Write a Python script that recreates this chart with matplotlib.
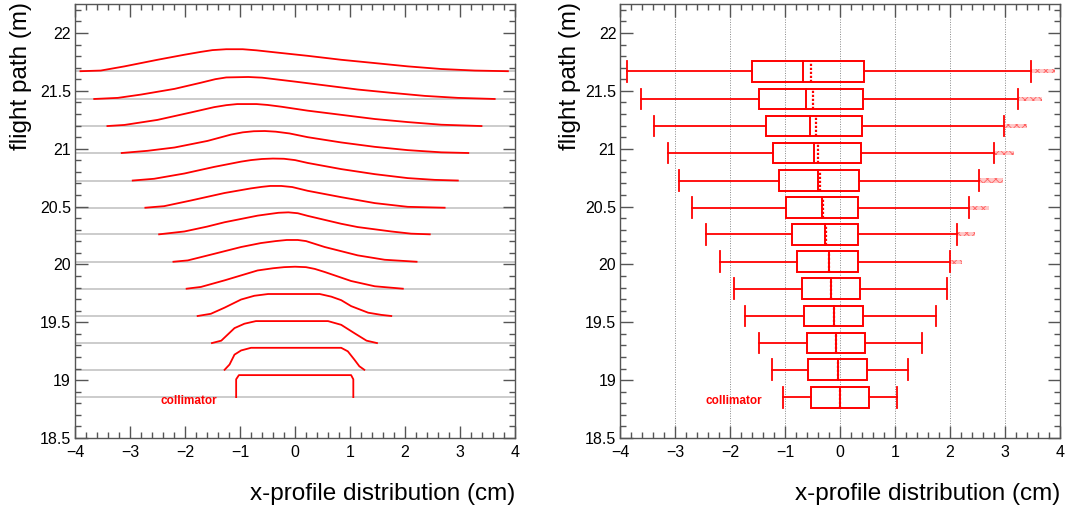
import numpy as np
import matplotlib
matplotlib.use("Agg")
import matplotlib.pyplot as plt
from matplotlib.patches import Rectangle
from matplotlib.ticker import MultipleLocator, FuncFormatter

plt.rcParams['font.family'] = ['Liberation Sans', 'DejaVu Sans']
plt.rcParams['axes.unicode_minus'] = True
plt.rcParams['hatch.linewidth'] = 0.6

# flight path of each slice (bottom = collimator)
levels = [18.853, 19.089, 19.32, 19.554, 19.79, 20.023, 20.26,
          20.49, 20.725, 20.963, 21.196, 21.43, 21.67]

# x-profile shapes (relative height, peak = 1)
profile_x = [
    [-1.07, -1.07, -1.02, 1.02, 1.06, 1.06],
    [-1.28, -1.19, -1.10, -0.98, -0.80, 0.84, 0.96, 1.08, 1.17, 1.26],
    [-1.51, -1.34, -1.10, -0.92, -0.71, 0.60, 0.84, 1.08, 1.30, 1.49],
    [-1.77, -1.53, -1.28, -0.98, -0.74, -0.49, 0.45, 0.66, 0.84, 1.02, 1.33, 1.57, 1.75],
    [-1.97, -1.71, -1.28, -0.68, -0.40, -0.20, 0.0, 0.20, 0.36, 0.54, 1.02, 1.45, 1.96],
    [-2.21, -1.95, -1.47, -0.98, -0.62, -0.35, -0.15, 0.05, 0.20, 0.54, 1.14, 1.63, 2.21],
    [-2.47, -2.01, -1.60, -1.28, -0.68, -0.45, -0.30, -0.12, 0.05, 0.23, 0.84, 1.14, 1.75, 2.11, 2.45],
    [-2.72, -2.38, -1.89, -1.28, -0.80, -0.60, -0.45, -0.25, -0.05, 0.23, 0.84, 1.45, 2.05, 2.72],
    [-2.95, -2.56, -2.01, -1.47, -0.98, -0.80, -0.60, -0.40, -0.20, 0.0, 0.23, 0.84, 1.45, 2.05, 2.54, 2.96],
    [-3.15, -2.68, -2.19, -1.59, -1.16, -0.95, -0.75, -0.55, -0.35, -0.10, 0.23, 0.84, 1.45, 2.05, 2.66, 3.15],
    [-3.41, -3.10, -2.50, -1.89, -1.47, -1.25, -1.05, -0.70, -0.50, -0.25, 0.23, 0.84, 1.45, 2.05, 2.66, 3.39],
    [-3.65, -3.22, -2.80, -2.19, -1.71, -1.45, -1.25, -0.85, -0.60, -0.30, 0.00, 0.54, 1.14, 1.75, 2.36, 2.96, 3.63],
    [-3.90, -3.53, -3.10, -2.50, -2.01, -1.71, -1.50, -1.25, -0.95, -0.70, -0.37, 0.23, 0.84, 1.45, 2.05, 2.66, 3.27, 3.87],
]
profile_h = [
    [0, 0.81, 1.0, 1.0, 0.81, 0],
    [0, 0.24, 0.69, 0.88, 1.0, 1.0, 0.84, 0.46, 0.16, 0],
    [0, 0.11, 0.68, 0.88, 1.0, 1.0, 0.83, 0.45, 0.11, 0],
    [0, 0.10, 0.38, 0.75, 0.92, 1.0, 1.0, 0.88, 0.72, 0.45, 0.15, 0.05, 0],
    [0, 0.08, 0.38, 0.83, 0.93, 0.98, 1.0, 0.98, 0.90, 0.76, 0.35, 0.11, 0],
    [0, 0.06, 0.36, 0.67, 0.85, 0.94, 0.99, 0.99, 0.94, 0.67, 0.29, 0.09, 0],
    [0, 0.13, 0.35, 0.55, 0.85, 0.93, 0.98, 1.0, 0.96, 0.84, 0.48, 0.33, 0.13, 0.03, 0],
    [0, 0.07, 0.33, 0.67, 0.88, 0.95, 0.99, 0.99, 0.94, 0.77, 0.48, 0.21, 0.04, 0],
    [0, 0.08, 0.32, 0.62, 0.86, 0.93, 0.98, 1.0, 0.99, 0.93, 0.80, 0.52, 0.29, 0.11, 0.03, 0],
    [0, 0.10, 0.25, 0.55, 0.84, 0.94, 0.99, 1.0, 0.97, 0.89, 0.72, 0.48, 0.28, 0.13, 0.03, 0],
    [0, 0.05, 0.28, 0.62, 0.86, 0.95, 1.0, 1.0, 0.96, 0.88, 0.70, 0.51, 0.32, 0.18, 0.06, 0],
    [0, 0.05, 0.20, 0.46, 0.74, 0.90, 0.98, 1.0, 0.97, 0.88, 0.79, 0.62, 0.43, 0.28, 0.14, 0.05, 0],
    [0, 0.03, 0.22, 0.52, 0.75, 0.88, 0.96, 1.0, 1.0, 0.95, 0.86, 0.70, 0.52, 0.37, 0.22, 0.10, 0.03, 0],
]

# box-plot statistics per slice
whisker_lo = [-1.04, -1.24, -1.48, -1.74, -1.94, -2.19, -2.45, -2.69, -2.94, -3.14, -3.39, -3.63, -3.89]
q1 = [-0.53, -0.58, -0.61, -0.66, -0.70, -0.78, -0.88, -0.98, -1.11, -1.22, -1.35, -1.48, -1.60]
median = [0.0, -0.04, -0.085, -0.12, -0.17, -0.21, -0.27, -0.34, -0.41, -0.48, -0.55, -0.62, -0.686]
mean = [0.0, -0.04, -0.085, -0.12, -0.17, -0.21, -0.26, -0.31, -0.36, -0.40, -0.44, -0.50, -0.54]
q3 = [0.53, 0.49, 0.45, 0.41, 0.36, 0.33, 0.33, 0.33, 0.35, 0.37, 0.39, 0.42, 0.437]
whisker_hi = [1.04, 1.24, 1.49, 1.74, 1.94, 1.99, 2.13, 2.34, 2.53, 2.79, 2.98, 3.23, 3.47]
outlier_hi = [None, None, None, None, None, 2.22, 2.46, 2.71, 2.97, 3.16, 3.40, 3.67, 3.91]

label_text = "collimator"
label_pos = (-2.45, 18.815)

RED = '#ff0000'
peak_height = 0.19
box_half = 0.09

fig = plt.figure(figsize=(10.65, 5.14), dpi=100)
ax1 = fig.add_axes([0.0704, 0.148, 0.4132, 0.844])
ax2 = fig.add_axes([0.5826, 0.148, 0.4127, 0.844])


def style_axes(ax):
    ax.set_xlim(-4, 4)
    ax.set_ylim(18.5, 22.25)
    ax.xaxis.set_major_locator(MultipleLocator(1))
    ax.xaxis.set_minor_locator(MultipleLocator(0.2))
    ax.yaxis.set_major_locator(MultipleLocator(0.5))
    ax.yaxis.set_minor_locator(MultipleLocator(0.1))
    fmt = FuncFormatter(lambda v, p: ('%g' % v).replace('-', '\u2212'))
    ax.xaxis.set_major_formatter(fmt)
    ax.yaxis.set_major_formatter(fmt)
    ax.tick_params(which='both', direction='in', top=True, right=True,
                   color='#555555', width=1.0, labelsize=11.5)
    ax.tick_params(which='major', length=9)
    ax.tick_params(which='minor', length=4.5)
    ax.tick_params(axis='x', pad=5)
    ax.tick_params(axis='y', pad=3)
    for s in ax.spines.values():
        s.set_color('#555555')
        s.set_linewidth(1.0)
    ax.set_xlabel('x-profile distribution (cm)', fontsize=17.5, loc='right')
    ax.set_ylabel('flight path (m)', fontsize=17.5, loc='top')
    ax.xaxis.set_label_coords(1.0, -0.103)
    ax.text(label_pos[0], label_pos[1], label_text, color=RED, fontsize=8.5,
            fontweight='bold', va='center', ha='left')


# left: stacked profiles
style_axes(ax1)
ax1.yaxis.set_label_coords(-0.098, 1.005)
for lev, xs, hs in zip(levels, profile_x, profile_h):
    ax1.axhline(lev, color='#c8c8c8', lw=1.3, zorder=1)
    ax1.plot(xs, lev + peak_height * np.array(hs), color=RED, lw=1.3, zorder=2)

# right: box plots
style_axes(ax2)
ax2.yaxis.set_label_coords(-0.09, 1.005)
for gx in range(-3, 4):
    ax2.axvline(gx, color='#888888', lw=0.7, ls=(0, (1, 1.5)), zorder=0)
for i, lev in enumerate(levels):
    ax2.add_patch(Rectangle((q1[i], lev - box_half), q3[i] - q1[i], 2 * box_half,
                            fill=False, edgecolor=RED, lw=1.4, zorder=3))
    ax2.plot([whisker_lo[i], q1[i]], [lev, lev], color=RED, lw=1.3)
    ax2.plot([q3[i], whisker_hi[i]], [lev, lev], color=RED, lw=1.3)
    for w in (whisker_lo[i], whisker_hi[i]):
        ax2.plot([w, w], [lev - box_half, lev + box_half], color=RED, lw=1.3)
    ax2.plot([median[i], median[i]], [lev - box_half, lev + box_half], color=RED, lw=1.4)
    ax2.plot([mean[i], mean[i]], [lev - box_half, lev + box_half], color=RED,
             lw=1.6, ls=(0, (1, 0.8)))
    if outlier_hi[i] is not None:
        ax2.add_patch(Rectangle((whisker_hi[i] + 0.02, lev - 0.018),
                                outlier_hi[i] - whisker_hi[i] - 0.02, 0.036,
                                facecolor='#ffc8c8', hatch='xxxx', edgecolor='#ff6060',
                                lw=0, zorder=2))

fig.savefig('out.png', dpi=100)
